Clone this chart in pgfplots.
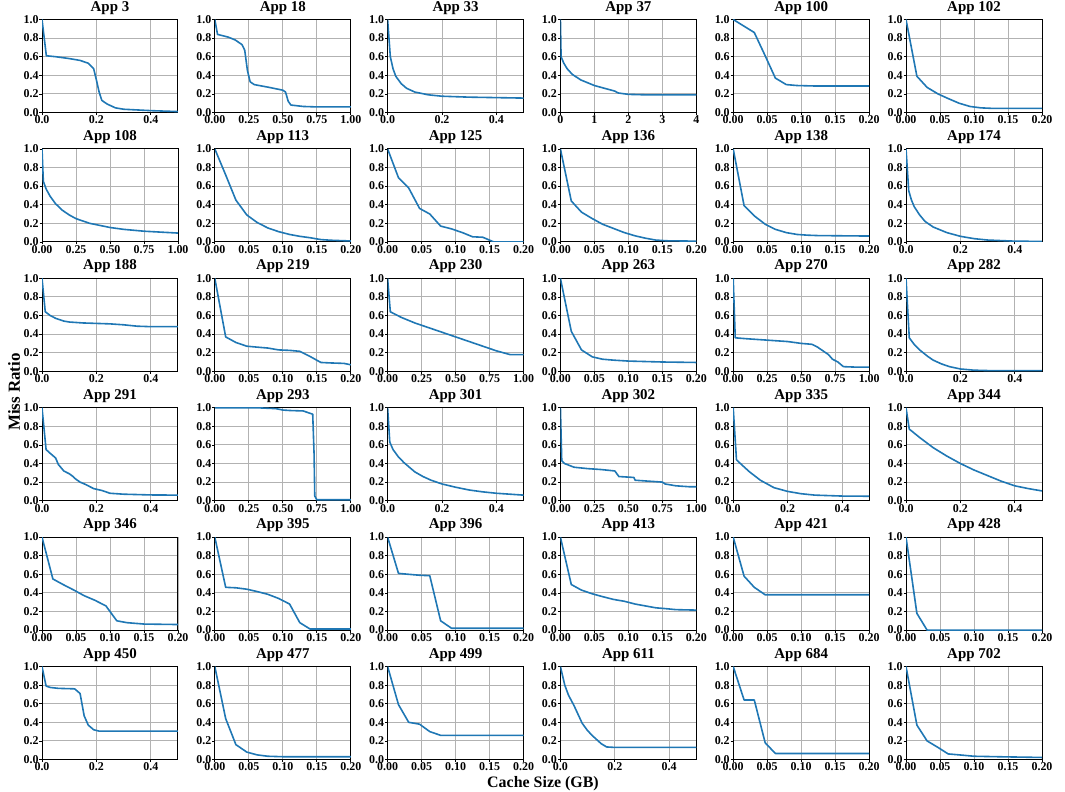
\documentclass[border=0pt]{standalone}
\usepackage{fontspec}
\setmainfont{Liberation Serif}
\usepackage{pgfplots}
\pgfplotsset{compat=1.18}
\definecolor{tabblue}{HTML}{1F77B4}
\tikzset{curve/.style={draw=tabblue, line width=1.6bp, line join=round, mark=none}}
\pgfplotsset{
  app/.style={
    width=136bp, height=93bp, scale only axis, anchor=north west,
    ymin=0, ymax=1, xmin=0,
    ytick={0,0.2,0.4,0.6,0.8,1.0},
    yticklabel style={/pgf/number format/.cd, fixed, fixed zerofill, precision=1},
    /pgf/number format/assume math mode=true,
    grid=major, grid style={color=black!30, line width=0.9bp},
    axis line style={line width=1bp},
    tick pos=left, tick align=outside, major tick length=2.5bp,
    tick style={black, line width=0.8bp},
    ticklabel style={font=\fontsize{12}{12}\selectfont\bfseries, inner sep=0.8bp},
    title style={font=\fontsize{15}{15}\selectfont\bfseries, inner sep=1bp, yshift=-2bp},
  },
  xA/.style={xmax=0.5, xtick={0,0.2,0.4}, xticklabel style={/pgf/number format/.cd, fixed, fixed zerofill, precision=1}},
  xB/.style={xmax=1, xtick={0,0.25,0.5,0.75,1}, xticklabel style={/pgf/number format/.cd, fixed, fixed zerofill, precision=2}},
  xC/.style={xmax=0.2, xtick={0,0.05,0.1,0.15,0.2}, xticklabel style={/pgf/number format/.cd, fixed, fixed zerofill, precision=2}},
  xD/.style={xmax=4, xtick={0,1,2,3,4}, xticklabel style={/pgf/number format/.cd, fixed, precision=0}},
}
\begin{document}
\begin{tikzpicture}
\useasboundingbox (0,0) rectangle (1065bp,-792bp);
% ---------- Row 1
\begin{axis}[app, xA, at={(42bp,-19.5bp)}, title={App 3}]
\addplot[curve] coordinates {(0,1.0)(0.016,0.61)(0.05,0.60)(0.1,0.58)(0.14,0.56)(0.17,0.53)(0.19,0.47)(0.2,0.35)(0.21,0.22)(0.22,0.13)(0.24,0.09)(0.27,0.05)(0.3,0.035)(0.4,0.02)(0.5,0.01)};
\end{axis}
\begin{axis}[app, xB, at={(214.8bp,-19.5bp)}, title={App 18}]
\addplot[curve] coordinates {(0,1.0)(0.02,0.84)(0.1,0.81)(0.15,0.78)(0.2,0.73)(0.22,0.67)(0.24,0.45)(0.26,0.33)(0.29,0.30)(0.4,0.27)(0.5,0.24)(0.52,0.22)(0.54,0.12)(0.56,0.08)(0.65,0.065)(0.75,0.06)(1.0,0.06)};
\end{axis}
\begin{axis}[app, xA, at={(387.6bp,-19.5bp)}, title={App 33}]
\addplot[curve] coordinates {(0,1.0)(0.005,0.8)(0.01,0.6)(0.02,0.47)(0.03,0.39)(0.05,0.31)(0.07,0.26)(0.1,0.22)(0.15,0.19)(0.2,0.175)(0.3,0.165)(0.4,0.16)(0.5,0.155)};
\end{axis}
\begin{axis}[app, xD, at={(560.4bp,-19.5bp)}, title={App 37}]
\addplot[curve] coordinates {(0,1.0)(0.02,0.6)(0.1,0.53)(0.2,0.47)(0.35,0.41)(0.6,0.35)(1.0,0.29)(1.3,0.26)(1.6,0.23)(1.7,0.21)(2.0,0.195)(2.5,0.19)(4,0.19)};
\end{axis}
\begin{axis}[app, xC, at={(733.2bp,-19.5bp)}, title={App 100}]
\addplot[curve] coordinates {(0,1.0)(0.031,0.86)(0.047,0.61)(0.062,0.37)(0.078,0.30)(0.094,0.29)(0.12,0.285)(0.2,0.285)};
\end{axis}
\begin{axis}[app, xC, at={(906bp,-19.5bp)}, title={App 102}]
\addplot[curve] coordinates {(0,1.0)(0.016,0.39)(0.031,0.27)(0.047,0.20)(0.062,0.15)(0.078,0.10)(0.094,0.065)(0.11,0.05)(0.125,0.045)(0.2,0.045)};
\end{axis}
% ---------- Row 2
\begin{axis}[app, xB, at={(42bp,-148.9bp)}, title={App 108}]
\addplot[curve] coordinates {(0,1.0)(0.01,0.65)(0.03,0.57)(0.06,0.49)(0.1,0.41)(0.15,0.34)(0.2,0.29)(0.25,0.25)(0.35,0.20)(0.5,0.155)(0.6,0.135)(0.75,0.115)(1.0,0.095)};
\end{axis}
\begin{axis}[app, xC, at={(214.8bp,-148.9bp)}, title={App 113}]
\addplot[curve] coordinates {(0,1.0)(0.016,0.72)(0.031,0.45)(0.047,0.29)(0.062,0.21)(0.078,0.15)(0.094,0.11)(0.11,0.08)(0.125,0.06)(0.14,0.045)(0.156,0.025)(0.17,0.018)(0.2,0.01)};
\end{axis}
\begin{axis}[app, xC, at={(387.6bp,-148.9bp)}, title={App 125}]
\addplot[curve] coordinates {(0,1.0)(0.016,0.69)(0.031,0.58)(0.047,0.36)(0.062,0.30)(0.078,0.17)(0.094,0.14)(0.11,0.10)(0.125,0.055)(0.14,0.05)(0.156,0.0)(0.2,0.0)};
\end{axis}
\begin{axis}[app, xC, at={(560.4bp,-148.9bp)}, title={App 136}]
\addplot[curve] coordinates {(0,1.0)(0.016,0.44)(0.031,0.32)(0.047,0.25)(0.062,0.19)(0.078,0.145)(0.094,0.10)(0.11,0.065)(0.125,0.04)(0.14,0.02)(0.156,0.012)(0.2,0.008)};
\end{axis}
\begin{axis}[app, xC, at={(733.2bp,-148.9bp)}, title={App 138}]
\addplot[curve] coordinates {(0,1.0)(0.016,0.39)(0.031,0.28)(0.047,0.19)(0.062,0.135)(0.078,0.10)(0.094,0.08)(0.11,0.072)(0.125,0.068)(0.2,0.063)};
\end{axis}
\begin{axis}[app, xA, at={(906bp,-148.9bp)}, title={App 174}]
\addplot[curve] coordinates {(0,1.0)(0.01,0.55)(0.02,0.45)(0.03,0.38)(0.05,0.29)(0.07,0.22)(0.1,0.16)(0.15,0.10)(0.2,0.06)(0.25,0.035)(0.3,0.02)(0.4,0.008)(0.5,0.005)};
\end{axis}
% ---------- Row 3
\begin{axis}[app, xA, at={(42bp,-278.3bp)}, title={App 188}]
\addplot[curve] coordinates {(0,1.0)(0.012,0.64)(0.03,0.60)(0.05,0.57)(0.08,0.54)(0.1,0.53)(0.15,0.52)(0.2,0.515)(0.25,0.51)(0.3,0.50)(0.35,0.485)(0.4,0.48)(0.5,0.48)};
\end{axis}
\begin{axis}[app, xC, at={(214.8bp,-278.3bp)}, title={App 219}]
\addplot[curve] coordinates {(0,1.0)(0.016,0.37)(0.031,0.31)(0.047,0.27)(0.062,0.26)(0.078,0.25)(0.094,0.23)(0.11,0.225)(0.125,0.215)(0.14,0.16)(0.156,0.095)(0.17,0.09)(0.19,0.085)(0.2,0.07)};
\end{axis}
\begin{axis}[app, xB, at={(387.6bp,-278.3bp)}, title={App 230}]
\addplot[curve] coordinates {(0,1.0)(0.02,0.64)(0.1,0.58)(0.2,0.52)(0.3,0.47)(0.4,0.42)(0.5,0.37)(0.6,0.32)(0.7,0.27)(0.8,0.22)(0.9,0.18)(1.0,0.18)};
\end{axis}
\begin{axis}[app, xC, at={(560.4bp,-278.3bp)}, title={App 263}]
\addplot[curve] coordinates {(0,1.0)(0.016,0.43)(0.031,0.23)(0.047,0.155)(0.062,0.13)(0.078,0.12)(0.1,0.11)(0.15,0.1)(0.2,0.095)};
\end{axis}
\begin{axis}[app, xB, at={(733.2bp,-278.3bp)}, title={App 270}]
\addplot[curve] coordinates {(0,1.0)(0.015,0.36)(0.1,0.35)(0.25,0.335)(0.4,0.32)(0.5,0.30)(0.58,0.29)(0.62,0.26)(0.66,0.22)(0.7,0.18)(0.73,0.13)(0.77,0.10)(0.81,0.05)(0.9,0.045)(1.0,0.045)};
\end{axis}
\begin{axis}[app, xA, at={(906bp,-278.3bp)}, title={App 282}]
\addplot[curve] coordinates {(0,1.0)(0.012,0.36)(0.03,0.29)(0.05,0.23)(0.08,0.16)(0.1,0.12)(0.13,0.08)(0.16,0.05)(0.2,0.025)(0.25,0.012)(0.3,0.008)(0.5,0.008)};
\end{axis}
% ---------- Row 4
\begin{axis}[app, xA, at={(42bp,-407.7bp)}, title={App 291}]
\addplot[curve] coordinates {(0,1.0)(0.015,0.55)(0.03,0.51)(0.05,0.46)(0.06,0.39)(0.08,0.32)(0.1,0.29)(0.11,0.27)(0.125,0.23)(0.14,0.2)(0.16,0.175)(0.19,0.13)(0.22,0.11)(0.25,0.08)(0.3,0.07)(0.4,0.062)(0.5,0.06)};
\end{axis}
\begin{axis}[app, xB, at={(214.8bp,-407.7bp)}, title={App 293}]
\addplot[curve] coordinates {(0,1.0)(0.3,1.0)(0.45,0.99)(0.5,0.975)(0.55,0.97)(0.65,0.965)(0.72,0.93)(0.73,0.5)(0.735,0.05)(0.75,0.01)(1.0,0.01)};
\end{axis}
\begin{axis}[app, xA, at={(387.6bp,-407.7bp)}, title={App 301}]
\addplot[curve] coordinates {(0,1.0)(0.008,0.63)(0.02,0.55)(0.04,0.47)(0.06,0.41)(0.08,0.36)(0.1,0.31)(0.13,0.26)(0.16,0.22)(0.2,0.18)(0.25,0.145)(0.3,0.115)(0.35,0.095)(0.4,0.08)(0.5,0.06)};
\end{axis}
\begin{axis}[app, xB, at={(560.4bp,-407.7bp)}, title={App 302}]
\addplot[curve] coordinates {(0,1.0)(0.01,0.43)(0.03,0.40)(0.1,0.36)(0.2,0.345)(0.3,0.335)(0.4,0.32)(0.42,0.28)(0.43,0.26)(0.54,0.25)(0.55,0.22)(0.6,0.215)(0.75,0.20)(0.77,0.18)(0.85,0.16)(0.95,0.15)(1.0,0.15)};
\end{axis}
\begin{axis}[app, xA, at={(733.2bp,-407.7bp)}, title={App 335}]
\addplot[curve] coordinates {(0,1.0)(0.012,0.44)(0.03,0.39)(0.06,0.31)(0.1,0.22)(0.15,0.14)(0.2,0.10)(0.25,0.075)(0.3,0.06)(0.35,0.055)(0.4,0.05)(0.5,0.048)};
\end{axis}
\begin{axis}[app, xA, at={(906bp,-407.7bp)}, title={App 344}]
\addplot[curve] coordinates {(0,1.0)(0.012,0.77)(0.05,0.68)(0.1,0.57)(0.15,0.48)(0.2,0.40)(0.25,0.33)(0.3,0.27)(0.35,0.21)(0.4,0.16)(0.45,0.13)(0.5,0.105)};
\end{axis}
% ---------- Row 5
\begin{axis}[app, xC, at={(42bp,-537.1bp)}, title={App 346}]
\addplot[curve] coordinates {(0,1.0)(0.016,0.55)(0.031,0.49)(0.047,0.43)(0.062,0.37)(0.078,0.32)(0.094,0.26)(0.11,0.10)(0.125,0.08)(0.15,0.065)(0.2,0.06)};
\end{axis}
\begin{axis}[app, xC, at={(214.8bp,-537.1bp)}, title={App 395}]
\addplot[curve] coordinates {(0,1.0)(0.016,0.46)(0.031,0.455)(0.047,0.44)(0.062,0.415)(0.078,0.385)(0.094,0.34)(0.11,0.28)(0.125,0.08)(0.14,0.012)(0.2,0.012)};
\end{axis}
\begin{axis}[app, xC, at={(387.6bp,-537.1bp)}, title={App 396}]
\addplot[curve] coordinates {(0,1.0)(0.016,0.61)(0.031,0.60)(0.047,0.59)(0.062,0.585)(0.078,0.10)(0.094,0.02)(0.2,0.02)};
\end{axis}
\begin{axis}[app, xC, at={(560.4bp,-537.1bp)}, title={App 413}]
\addplot[curve] coordinates {(0,1.0)(0.016,0.49)(0.031,0.43)(0.047,0.39)(0.062,0.36)(0.078,0.33)(0.094,0.31)(0.11,0.28)(0.125,0.26)(0.14,0.24)(0.156,0.23)(0.17,0.22)(0.2,0.215)};
\end{axis}
\begin{axis}[app, xC, at={(733.2bp,-537.1bp)}, title={App 421}]
\addplot[curve] coordinates {(0,1.0)(0.016,0.58)(0.031,0.46)(0.047,0.38)(0.2,0.38)};
\end{axis}
\begin{axis}[app, xC, at={(906bp,-537.1bp)}, title={App 428}]
\addplot[curve] coordinates {(0,1.0)(0.016,0.18)(0.031,0.0)(0.2,0.0)};
\end{axis}
% ---------- Row 6
\begin{axis}[app, xA, at={(42bp,-666.5bp)}, title={App 450}]
\addplot[curve] coordinates {(0,1.0)(0.015,0.79)(0.03,0.775)(0.06,0.765)(0.12,0.76)(0.14,0.71)(0.155,0.47)(0.17,0.37)(0.19,0.32)(0.21,0.305)(0.5,0.305)};
\end{axis}
\begin{axis}[app, xC, at={(214.8bp,-666.5bp)}, title={App 477}]
\addplot[curve] coordinates {(0,1.0)(0.016,0.44)(0.031,0.16)(0.047,0.08)(0.062,0.05)(0.078,0.035)(0.1,0.03)(0.2,0.03)};
\end{axis}
\begin{axis}[app, xC, at={(387.6bp,-666.5bp)}, title={App 499}]
\addplot[curve] coordinates {(0,1.0)(0.016,0.59)(0.031,0.40)(0.047,0.38)(0.062,0.30)(0.078,0.26)(0.2,0.26)};
\end{axis}
\begin{axis}[app, xA, at={(560.4bp,-666.5bp)}, title={App 611}]
\addplot[curve] coordinates {(0,1.0)(0.016,0.80)(0.03,0.69)(0.05,0.58)(0.08,0.39)(0.1,0.31)(0.12,0.25)(0.15,0.17)(0.17,0.135)(0.2,0.13)(0.5,0.13)};
\end{axis}
\begin{axis}[app, xC, at={(733.2bp,-666.5bp)}, title={App 684}]
\addplot[curve] coordinates {(0,1.0)(0.016,0.64)(0.031,0.64)(0.047,0.18)(0.062,0.065)(0.2,0.065)};
\end{axis}
\begin{axis}[app, xC, at={(906bp,-666.5bp)}, title={App 702}]
\addplot[curve] coordinates {(0,1.0)(0.016,0.37)(0.031,0.20)(0.047,0.13)(0.062,0.06)(0.078,0.05)(0.1,0.035)(0.15,0.028)(0.2,0.022)};
\end{axis}
% ---------- shared labels
\node[rotate=90, font=\fontsize{17}{17}\selectfont\bfseries] at (14bp,-392bp) {Miss Ratio};
\node[font=\fontsize{16}{16}\selectfont\bfseries, anchor=base] at (543bp,-787bp) {Cache Size (GB)};
\end{tikzpicture}
\end{document}
